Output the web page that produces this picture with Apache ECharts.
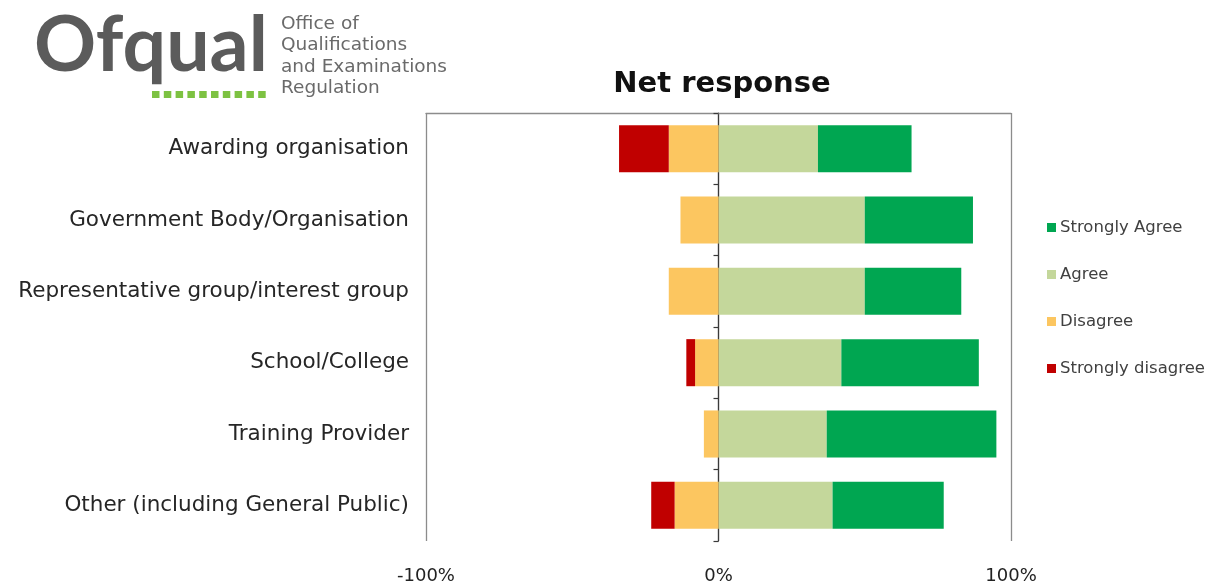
<!DOCTYPE html>
<html>
<head>
<meta charset="utf-8">
<script src="https://cdn.jsdelivr.net/npm/echarts@6/dist/echarts.min.js"></script>
<style>
  html, body { margin: 0; padding: 0; background: #fff; }
  #chart { width: 1213px; height: 585px; }
</style>
</head>
<body>
<div id="chart"></div>
<script>
// Respondent groups, top to bottom
const categories = [
  'Awarding organisation',
  'Government Body/Organisation',
  'Representative group/interest group',
  'School/College',
  'Training Provider',
  'Other (including General Public)'
];

// Share of responses in each group (%)
const stronglyAgree    = [32, 37, 33, 47, 58, 38];
const agree            = [34, 50, 50, 42, 37, 39];
const disagree         = [17, 13, 17, 8, 5, 15];
const stronglyDisagree = [17, 0, 0, 3, 0, 8];

// Value-axis tick labels
const xTicks = ['-100%', '0%', '100%'];

const COLORS = {
  sa: '#00A651',
  a: '#C4D79B',
  d: '#FCC660',
  sd: '#C00000'
};

const neg = arr => arr.map(v => -v);
const fontUI = '"DejaVu Sans", "Open Sans", sans-serif';

// Ofqual logo: wordmark, dotted rule and strapline
const logoDots = [];
for (let i = 0; i < 10; i++) {
  logoDots.push({
    type: 'rect',
    shape: { x: 152 + i * 11.8, y: 91, width: 7.5, height: 7 },
    style: { fill: '#7DC242' },
    silent: true
  });
}
const strapline = ['Office of', 'Qualifications', 'and Examinations', 'Regulation'];
const straplineEls = strapline.map((t, i) => ({
  type: 'text',
  style: {
    x: 281, y: 24 + i * 21.5,
    text: t,
    fill: '#6a6a6a',
    font: '18.5px ' + fontUI,
    verticalAlign: 'middle'
  },
  silent: true
}));

const chart = echarts.init(document.getElementById('chart'), null, { renderer: 'canvas' });

chart.setOption({
  backgroundColor: '#ffffff',
  animation: false,
  title: {
    text: 'Net response',
    left: 717,
    textAlign: 'center',
    top: 65,
    textStyle: { fontFamily: fontUI, fontWeight: 'bold', fontSize: 29, color: '#111' }
  },
  legend: {
    orient: 'vertical',
    left: 1042,
    top: 214,
    itemWidth: 9,
    itemHeight: 9,
    itemGap: 30,
    icon: 'rect',
    data: ['Strongly Agree', 'Agree', 'Disagree', 'Strongly disagree'],
    textStyle: { fontFamily: fontUI, fontSize: 16.5, color: '#404040', lineHeight: 15, padding: [0, 0, 0, -1] }
  },
  grid: { left: 426, right: 202, top: 113, bottom: 44, containLabel: false },
  xAxis: [
    {
      type: 'value',
      min: -100,
      max: 100,
      interval: 100,
      axisLine: { show: false },
      axisTick: { show: false },
      splitLine: { show: true, lineStyle: { color: '#8c8c8c', width: 1.3 } },
      axisLabel: {
        margin: 26,
        fontFamily: fontUI,
        fontSize: 18,
        color: '#222',
        formatter: v => xTicks[(v + 100) / 100]
      }
    },
    {
      // top edge of the plot area
      type: 'value',
      position: 'top',
      min: -100,
      max: 100,
      axisLine: { show: true, onZero: false, lineStyle: { color: '#8c8c8c', width: 1.3 } },
      axisTick: { show: false },
      axisLabel: { show: false },
      splitLine: { show: false }
    }
  ],
  yAxis: [
    {
      type: 'category',
      position: 'left',
      data: categories,
      inverse: true,
      axisLine: { show: false },
      axisTick: { show: false },
      axisLabel: { margin: 17, fontFamily: fontUI, fontSize: 21.5, color: '#262626' }
    },
    {
      // zero line with category separators
      type: 'category',
      position: 'left',
      data: categories,
      inverse: true,
      axisLine: { show: true, onZero: true, onZeroAxisIndex: 0, lineStyle: { color: '#3a3a3a', width: 1.2 } },
      axisTick: { show: true, inside: false, length: 5, lineStyle: { color: '#3a3a3a', width: 1.2 } },
      axisLabel: { show: false },
      splitLine: { show: false }
    }
  ],
  series: [
    {
      name: 'Agree', type: 'bar', stack: 'net', data: agree,
      barCategoryGap: '34%', itemStyle: { color: COLORS.a }, z: 1
    },
    {
      name: 'Strongly Agree', type: 'bar', stack: 'net', data: stronglyAgree,
      itemStyle: { color: COLORS.sa }, z: 1
    },
    {
      name: 'Disagree', type: 'bar', stack: 'net', data: neg(disagree),
      itemStyle: { color: COLORS.d }, z: 1
    },
    {
      name: 'Strongly disagree', type: 'bar', stack: 'net', data: neg(stronglyDisagree),
      itemStyle: { color: COLORS.sd }, z: 1
    }
  ],
  graphic: [
    {
      type: 'text',
      style: {
        x: 34, y: 46,
        text: 'Ofqual',
        fill: '#5b5b5b',
        font: 'bold 77px Lato, "Noto Sans", sans-serif',
        verticalAlign: 'middle'
      },
      silent: true
    },
    ...logoDots,
    ...straplineEls
  ]
});
</script>
</body>
</html>
